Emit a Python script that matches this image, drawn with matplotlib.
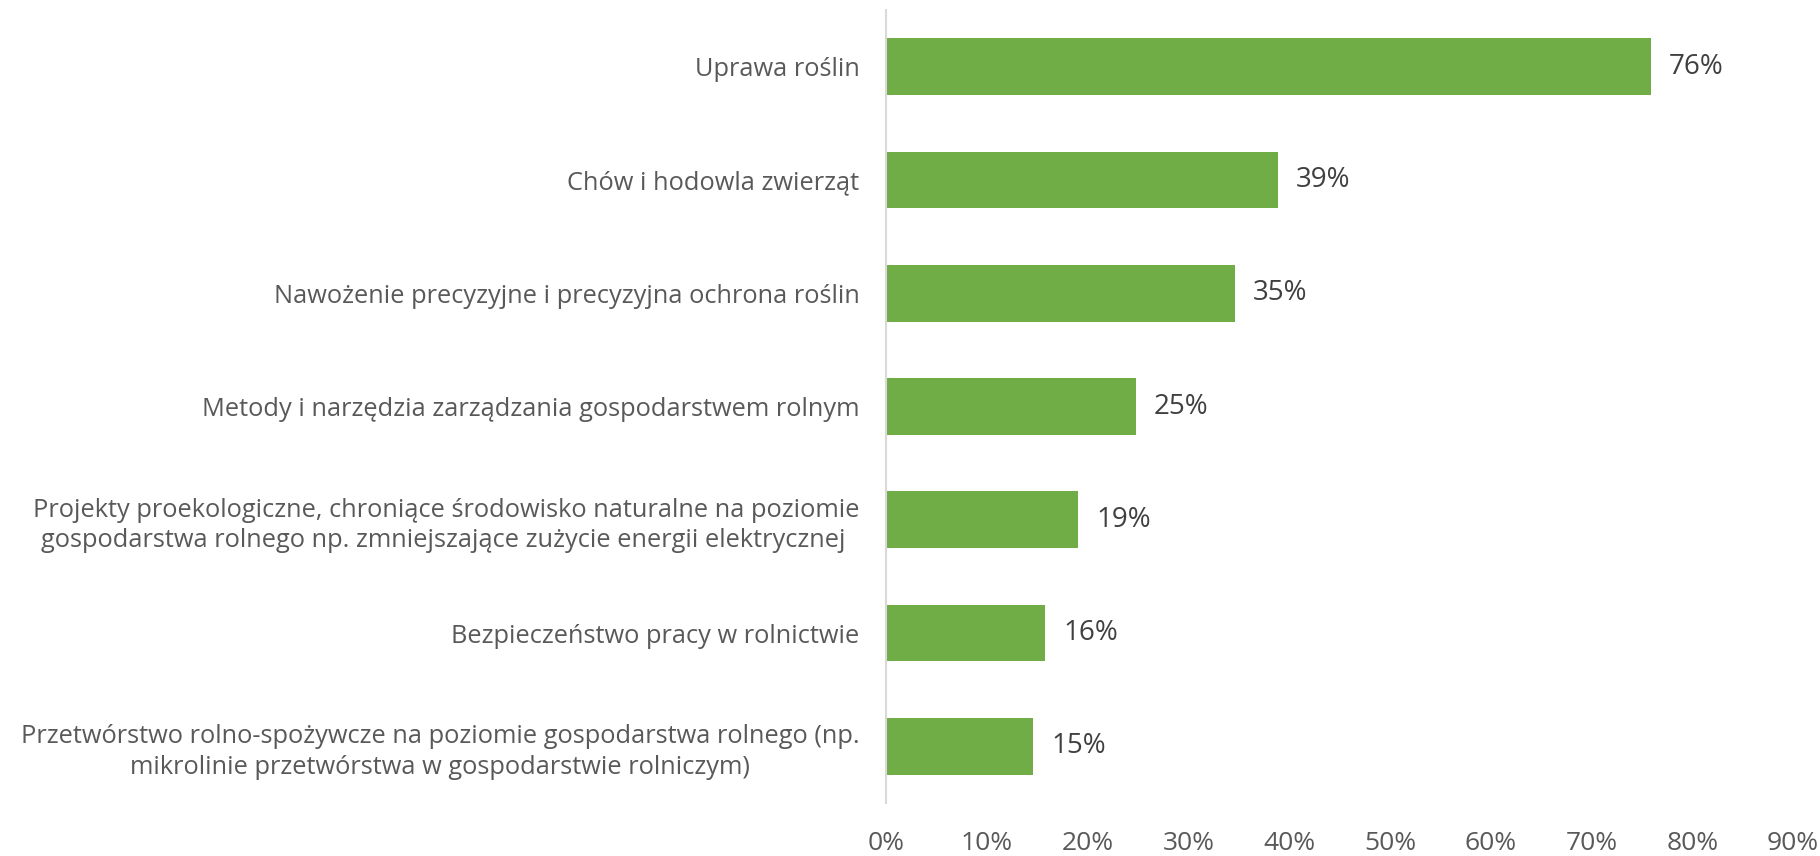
import numpy as np
import matplotlib.pyplot as plt

categories = [
    "Uprawa roślin",
    "Chów i hodowla zwierząt",
    "Nawożenie precyzyjne i precyzyjna ochrona roślin",
    "Metody i narzędzia zarządzania gospodarstwem rolnym",
    "Projekty proekologiczne, chroniące środowisko naturalne na poziomie\ngospodarstwa rolnego np. zmniejszające zużycie energii elektrycznej ",
    "Bezpieczeństwo pracy w rolnictwie",
    "Przetwórstwo rolno-spożywcze na poziomie gospodarstwa rolnego (np.\nmikrolinie przetwórstwa w gospodarstwie rolniczym)",
]
values = [75.9, 38.9, 34.6, 24.8, 19.1, 15.8, 14.6]
ticks = [0, 10, 20, 30, 40, 50, 60, 70, 80, 90]

GREEN = "#70AD47"
TEXT = "#595959"


def main() -> None:
    plt.rcParams["font.family"] = ["Open Sans", "DejaVu Sans"]
    fig = plt.figure(figsize=(18.2, 8.56), dpi=100)
    ax = fig.add_axes([886 / 1820, 1 - 803 / 856, (1793 - 886) / 1820, (803 - 10) / 856])

    y = np.arange(len(categories))
    ax.barh(y, values, height=0.5, color=GREEN)
    for yi, v in zip(y, values):
        ax.text(v + 1.8, yi, f"{round(v)}%", va="center", ha="left",
                fontsize=20, color="#404040")

    ax.set_ylim(len(categories) - 0.5, -0.5)
    ax.set_xlim(0, 90)
    ax.set_yticks(y)
    ax.set_yticklabels(categories, fontsize=18.3, color=TEXT, linespacing=1.3,
                       multialignment="center")
    ax.set_xticks(ticks)
    ax.set_xticklabels([f"{t}%" for t in ticks], fontsize=19, color=TEXT)
    ax.tick_params(axis="both", length=0)
    ax.tick_params(axis="x", pad=20)
    ax.tick_params(axis="y", pad=19)

    for s in ("top", "right", "bottom"):
        ax.spines[s].set_visible(False)
    ax.spines["left"].set_color("#D9D9D9")
    ax.spines["left"].set_linewidth(1.5)

    fig.savefig("out.png", dpi=100)


if __name__ == "__main__":
    main()
